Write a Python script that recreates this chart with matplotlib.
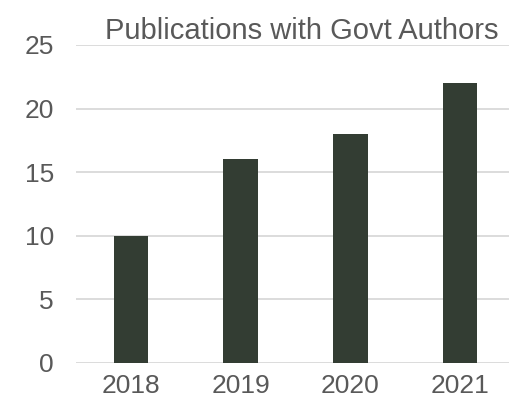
import matplotlib.pyplot as plt
import numpy as np

years = ["2018", "2019", "2020", "2021"]
publications = [10, 16, 18, 22]
y_ticks = [0, 5, 10, 15, 20, 25]

plt.rcParams['font.family'] = ['Liberation Sans', 'DejaVu Sans']

fig = plt.figure(figsize=(5.1, 4.05), dpi=100)
ax = fig.add_axes([76 / 510, 42 / 405, 439 / 510, 318 / 405])

x = np.arange(len(years))
ax.bar(x, publications, width=0.315, color='#333d33', zorder=3)

ax.set_xlim(-0.5, len(years) - 0.5)
ax.set_ylim(0, 25)
ax.set_xticks(x)
ax.set_xticklabels(years)
ax.set_yticks(y_ticks)
ax.grid(axis='y', color='#d9d9d9', linewidth=1.3, zorder=0)
ax.tick_params(axis='both', length=0, labelsize=19, labelcolor='#595959')
ax.tick_params(axis='y', pad=16)
ax.tick_params(axis='x', pad=8)
for s in ax.spines.values():
    s.set_visible(False)

ax.set_title("Publications with Govt Authors", fontsize=21, color='#595959',
             pad=4, x=0.515)

fig.savefig("out.png", dpi=100)
